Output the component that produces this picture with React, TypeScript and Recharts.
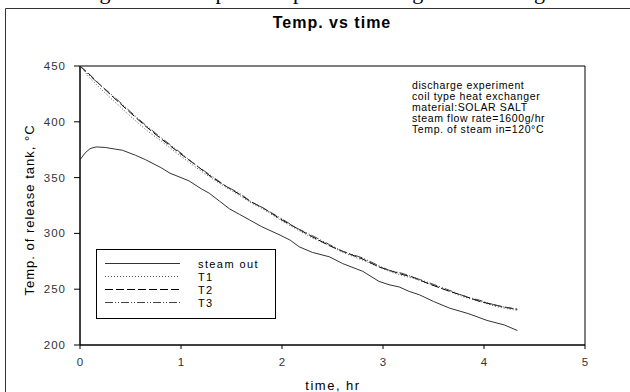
import React from 'react';
import { LineChart, Line, XAxis, YAxis, ReferenceArea, Customized } from 'recharts';

const steamTime = [0, 0.05, 0.1, 0.16, 0.25, 0.35, 0.42, 0.55, 0.65, 0.8, 0.89, 1.0, 1.08, 1.2, 1.28, 1.38, 1.48, 1.58, 1.68, 1.8, 1.98, 2.08, 2.17, 2.3, 2.47, 2.6, 2.8, 2.96, 3.06, 3.16, 3.26, 3.36, 3.5, 3.66, 3.85, 4.03, 4.2, 4.33];
const steamOut = [366, 372, 376, 377.5, 377, 375.5, 374.5, 370, 366, 359, 354, 350, 347, 340, 336, 329, 322, 317, 312, 306, 298.5, 294, 288, 283, 279, 273, 266, 257, 254, 252, 248, 245, 239, 233, 228, 222, 218, 213];

const tTime = [0, 0.1, 0.2, 0.33, 0.5, 0.65, 0.8, 1.0, 1.15, 1.31, 1.45, 1.58, 1.7, 1.81, 2.0, 2.14, 2.3, 2.47, 2.6, 2.8, 2.96, 3.06, 3.2, 3.29, 3.45, 3.63, 3.8, 3.96, 4.1, 4.2, 4.33];
const t1Vals = [450, 439, 430, 419, 405, 393, 383, 369, 359, 349, 341, 334, 327, 322, 311, 304, 296, 289, 283, 276, 270, 266, 262, 260, 255, 249, 243, 239, 235, 233, 231];
const t2Vals = [450, 442, 433, 422, 408, 396, 385, 371, 361, 350, 342, 335, 328, 323, 312, 305, 297, 289, 284, 277, 270, 267, 263, 261, 255, 249, 244, 239, 236, 234, 232];
const t3Vals = [450, 441, 433, 423, 409, 397, 386, 372, 361, 351, 342, 336, 328, 323, 313, 305, 298, 290, 284, 278, 271, 267, 264, 261, 256, 250, 244, 240, 236, 234, 232];

const xTicks = [0, 1, 2, 3, 4, 5];
const yTicks = [200, 250, 300, 350, 400, 450];
const seriesNames = ['steam out', 'T1', 'T2', 'T3'];
const noteLines = [
  'discharge experiment',
  'coil type heat exchanger',
  'material:SOLAR SALT',
  'steam flow rate=1600g/hr',
  'Temp. of steam in=120°C',
];
const titleText = 'Temp. vs time';
const captionText = 'Figure 4.8  Temperature profiles during heat discharge';
const xLabel = 'time, hr';
const yLabel = 'Temp.  of release tank, °C';

const steamData = steamTime.map((t, i) => ({ t, v: steamOut[i] }));
const t1Data = tTime.map((t, i) => ({ t, v: t1Vals[i] }));
const t2Data = tTime.map((t, i) => ({ t, v: t2Vals[i] }));
const t3Data = tTime.map((t, i) => ({ t, v: t3Vals[i] }));

const FONT = '"Liberation Sans", Arial, sans-serif';

const styles = [
  { stroke: '#333', dash: undefined as string | undefined },
  { stroke: '#555', dash: '1 2' },
  { stroke: '#000', dash: '8 3' },
  { stroke: '#444', dash: '8 2 1 2 1 2' },
];

const Decor = () => (
  <g>
    <path d="M5.5,392 V8.5 H630" fill="none" stroke="#333" strokeWidth={1} />
    <text x={318} y={-1} textAnchor="middle" fontFamily='"Liberation Serif", serif' fontSize={22} fill="#000">
      {captionText}
    </text>
    <text x={332} y={28} textAnchor="middle" fontFamily={FONT} fontSize={16} fontWeight="bold" letterSpacing={1} fill="#000">
      {titleText}
    </text>
    <text x={333} y={390} textAnchor="middle" fontFamily={FONT} fontSize={13} letterSpacing={1.5} fill="#000">
      {xLabel}
    </text>
    <text
      x={0}
      y={0}
      transform="translate(34,210) rotate(-90)"
      textAnchor="middle"
      fontFamily={FONT}
      fontSize={13}
      letterSpacing={1}
      fill="#000"
    >
      {yLabel}
    </text>
    {noteLines.map((s, i) => (
      <text key={s} x={412} y={89 + i * 11} fontFamily={FONT} fontSize={10.5} letterSpacing={0.6} fill="#000">
        {s}
      </text>
    ))}
    <rect x={96.5} y={249.5} width={179} height={69} fill="#fff" stroke="#000" strokeWidth={1} />
    {seriesNames.map((n, i) => {
      const y = 263.5 + i * 13;
      return (
        <g key={n}>
          <line x1={105} x2={180} y1={y} y2={y} stroke={styles[i].stroke} strokeDasharray={styles[i].dash} strokeWidth={1} />
          <text x={198} y={y + 4} fontFamily={FONT} fontSize={11} letterSpacing={1.4} fill="#000">
            {n}
          </text>
        </g>
      );
    })}
  </g>
);

export default function App() {
  return (
    <div style={{ position: 'absolute', left: 0, top: 0, width: 630, height: 392, background: '#fff' }}>
      <LineChart width={630} height={392} margin={{ top: 66, right: 45, bottom: 17, left: 20 }}>
        <XAxis
          type="number"
          dataKey="t"
          domain={[0, 5]}
          ticks={xTicks}
          allowDataOverflow
          height={30}
          tickSize={4}
          tickMargin={9}
          stroke="#000"
          tick={{ fontSize: 11.5, fill: '#333', fontFamily: FONT }}
        />
        <YAxis
          type="number"
          dataKey="v"
          domain={[200, 450]}
          ticks={yTicks}
          allowDataOverflow
          width={60}
          tickSize={6}
          tickMargin={8}
          stroke="#000"
          tick={{ fontSize: 11.5, fill: '#333', fontFamily: FONT, letterSpacing: 1 }}
        />
        <ReferenceArea x1={0} x2={5} y1={200} y2={450} fill="none" fillOpacity={0} stroke="#000" strokeWidth={1} ifOverflow="visible" />
        <Line data={steamData} dataKey="v" type="linear" stroke={styles[0].stroke} strokeWidth={1} dot={false} isAnimationActive={false} />
        <Line data={t1Data} dataKey="v" type="linear" stroke={styles[1].stroke} strokeDasharray={styles[1].dash} strokeWidth={1} dot={false} isAnimationActive={false} />
        <Line data={t2Data} dataKey="v" type="linear" stroke={styles[2].stroke} strokeDasharray={styles[2].dash} strokeWidth={1} dot={false} isAnimationActive={false} />
        <Line data={t3Data} dataKey="v" type="linear" stroke={styles[3].stroke} strokeDasharray={styles[3].dash} strokeWidth={1} dot={false} isAnimationActive={false} />
        <Customized component={Decor} />
      </LineChart>
    </div>
  );
}
